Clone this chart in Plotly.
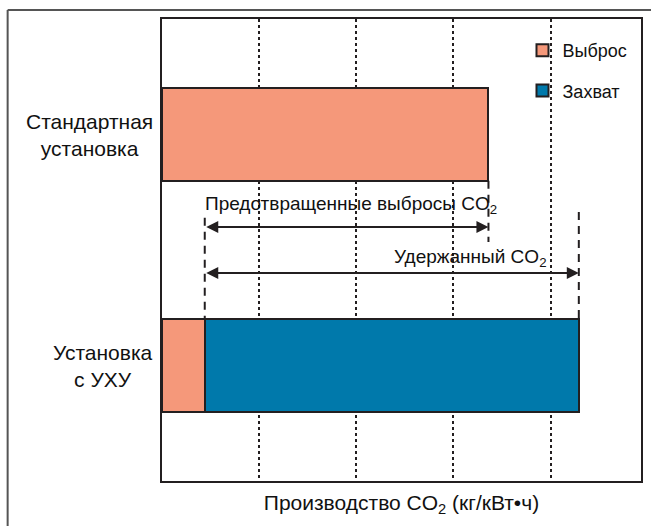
import plotly.graph_objects as go

# ---- data ----
categories = ["Стандартная установка", "Установка с УХУ"]
cat_labels = ["Стандартная<br>установка", "Установка<br>с УХУ"]
emission = [3.36, 0.44]          # Выброс
capture = [0.0, 3.85]            # Захват
series_names = ["Выброс", "Захват"]
x_max = 4.93

ORANGE = "#F5987A"
BLUE = "#0079AB"
DARK = "#231F20"
FONT = "Liberation Sans, Arial, sans-serif"

W, H = 651, 526
ML, MR, MT, MB = 162, 8, 19, 45
PW, PH = W - ML - MR, H - MT - MB

def px_x(p):
    return (p - ML) / PW

def px_y(p):
    return (H - MB - p) / PH

fig = go.Figure()
fig.add_trace(go.Bar(
    y=categories, x=emission, orientation="h", name=series_names[0],
    marker=dict(color=ORANGE, line=dict(color=DARK, width=2)),
    width=0.4, legendgroup="a"))
fig.add_trace(go.Bar(
    y=categories, x=capture, orientation="h", name=series_names[1],
    marker=dict(color=BLUE, line=dict(color=DARK, width=2)),
    width=0.4, legendgroup="b"))

std_end = emission[0]
ccs_em = emission[1]
ccs_end = emission[1] + capture[1]

shapes = []
# dashed guide lines
for x0, y0, y1 in [(std_end, 0.2, 0.465), (ccs_em, 0.36, 0.8), (ccs_end, 0.335, 0.8)]:
    shapes.append(dict(type="line", xref="x", yref="y", x0=x0, x1=x0, y0=y0, y1=y1,
                       line=dict(color=DARK, width=2, dash="8px,6px")))
# outer frame (left and top)
shapes.append(dict(type="line", xref="paper", yref="paper",
                   x0=px_x(7), x1=px_x(7), y0=px_y(10), y1=px_y(540),
                   line=dict(color="#555555", width=2)))
shapes.append(dict(type="line", xref="paper", yref="paper",
                   x0=px_x(7), x1=px_x(660), y0=px_y(10), y1=px_y(10),
                   line=dict(color="#555555", width=2)))

annotations = []
# double arrows
for xa, xb, yv in [(ccs_em, std_end, 0.40), (ccs_em, ccs_end, 0.60)]:
    annotations.append(dict(x=xb, y=yv, ax=xa, ay=yv, xref="x", yref="y",
                            axref="x", ayref="y", text="", showarrow=True,
                            arrowhead=2, arrowside="end+start", arrowsize=1.2,
                            arrowwidth=2, arrowcolor=DARK, standoff=0, startstandoff=0))
annotations.append(dict(x=(ccs_em + std_end) / 2 + 0.05, y=0.305, xref="x", yref="y",
                        text="Предотвращенные выбросы CO<sub>2</sub>", showarrow=False,
                        font=dict(size=19, color="#111111", family=FONT)))
annotations.append(dict(x=3.98, y=0.535, xref="x", yref="y", xanchor="right",
                        text="Удержанный CO<sub>2</sub>", showarrow=False,
                        font=dict(size=19, color="#111111", family=FONT)))
# category labels
for cat, lab in zip(categories, cat_labels):
    annotations.append(dict(x=px_x(155), y=cat, xref="paper", yref="y",
                            xanchor="right", align="center", text=lab, showarrow=False,
                            font=dict(size=21, color="#111111", family=FONT)))

fig.update_layout(
    width=W, height=H,
    margin=dict(l=ML, r=MR, t=MT, b=MB),
    paper_bgcolor="white", plot_bgcolor="white",
    barmode="stack",
    font=dict(family=FONT, size=18, color="#111111"),
    showlegend=True,
    legend=dict(x=px_x(524), y=px_y(32), xanchor="left", yanchor="top",
                traceorder="grouped", tracegroupgap=14,
                bgcolor="rgba(0,0,0,0)", font=dict(size=18)),
    xaxis=dict(range=[0, x_max], dtick=1, tick0=0, showticklabels=False, ticks="",
               showgrid=True, gridcolor=DARK, gridwidth=2, griddash="dot",
               zeroline=False, showline=True, linecolor=DARK, linewidth=2, mirror=True,
               title=dict(text="Производство CO<sub>2</sub> (кг/кВт•ч)", standoff=13,
                          font=dict(size=21))),
    yaxis=dict(categoryorder="array", categoryarray=categories, range=[1.5, -0.5],
               showticklabels=False, ticks="", showgrid=False, zeroline=False,
               showline=True, linecolor=DARK, linewidth=2, mirror=True),
    shapes=shapes, annotations=annotations,
)

fig.write_html("out.html", config={"displayModeBar": False},
               post_script="document.body.style.margin='0';document.body.style.overflow='hidden';")
